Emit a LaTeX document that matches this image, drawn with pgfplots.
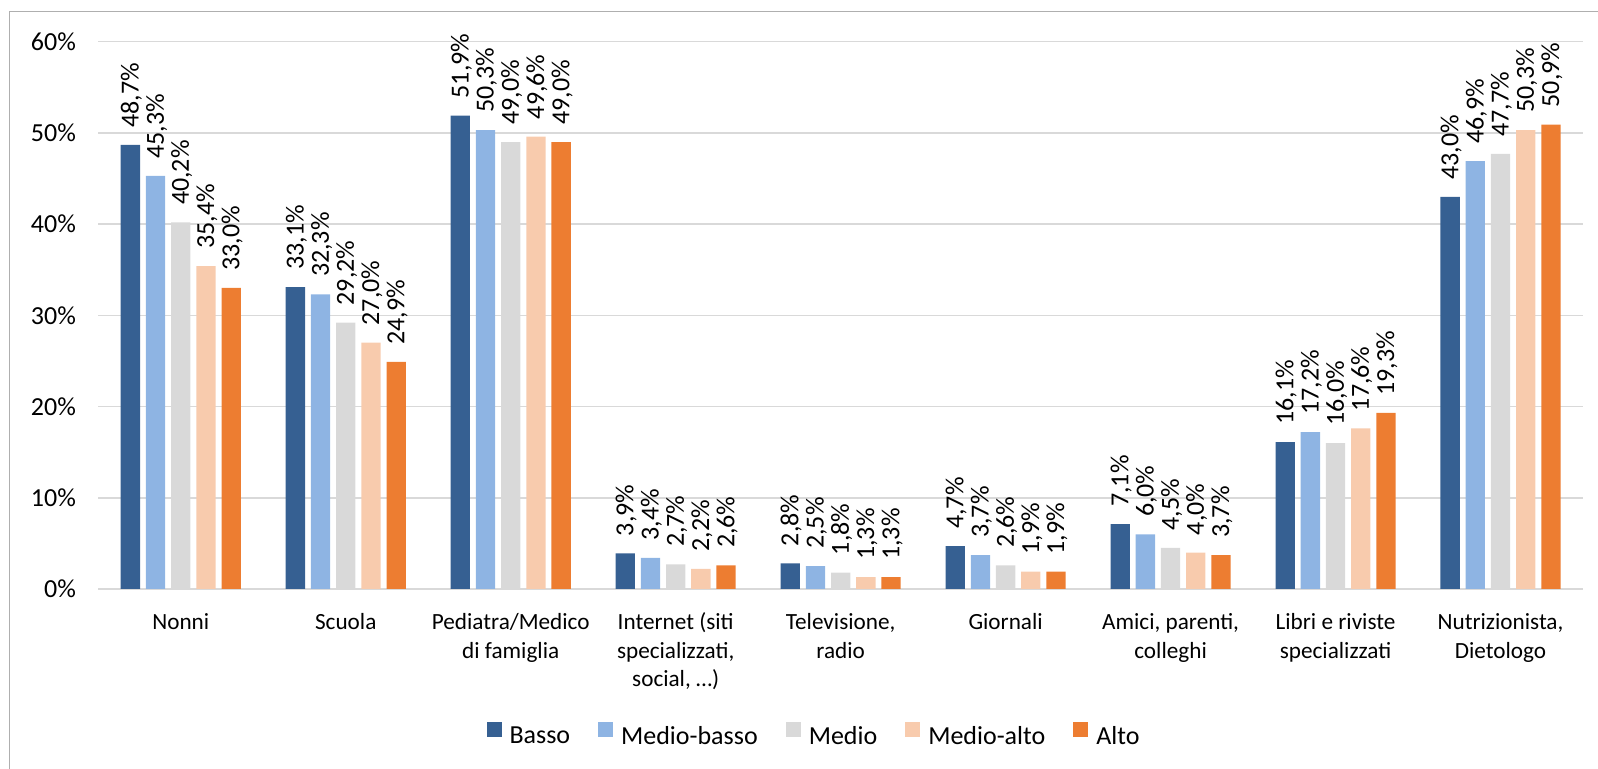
\documentclass[border=0pt]{standalone}
\usepackage{pgfplots}
\pgfplotsset{compat=1.18}
\usepackage{fontspec}
\setmainfont{Carlito}
\definecolor{cBasso}{RGB}{54,96,146}
\definecolor{cMedioBasso}{RGB}{142,180,227}
\definecolor{cMedio}{RGB}{217,217,217}
\definecolor{cMedioAlto}{RGB}{248,203,173}
\definecolor{cAlto}{RGB}{237,125,49}
\definecolor{gridgray}{RGB}{217,217,217}
\definecolor{framegray}{RGB}{175,175,175}
\begin{document}
\begin{tikzpicture}
\useasboundingbox (-49.15pt,-90pt) rectangle (749.85pt,294.5pt);
\draw[framegray, line width=0.7pt] (-44.5pt,-100pt) -- (-44.5pt,288.65pt) -- (760pt,288.65pt);
\begin{axis}[
  at={(0pt,0pt)}, anchor=south west,
  scale only axis,
  width=742.35pt, height=273.65pt,
  xmin=-0.5, xmax=8.5, ymin=0, ymax=60,
  clip=false,
  ybar=2.95pt, bar width=9.65pt,
  axis lines*=left,
  y axis line style={draw=none},
  x axis line style={draw=gridgray, line width=0.9pt},
  major tick length=0pt,
  ymajorgrids, grid style={gridgray, line width=0.75pt},
  ytick={0,10,20,30,40,50,60},
  /pgf/number format/assume math mode=true,
  yticklabel={\pgfmathprintnumber{\tick}\%},
  yticklabel style={font=\fontsize{13}{15}\selectfont, anchor=east, inner sep=0pt, xshift=-11pt},
  xtick={0,1,2,3,4,5,6,7,8},
  xticklabels={\strut Nonni,\strut Scuola,{\strut Pediatra/Medico\\di famiglia},{\strut Internet (siti\\specializzati,\\social, …)},{\strut Televisione,\\radio},\strut Giornali,{\strut Amici, parenti,\\colleghi},{\strut Libri e riviste\\specializzati},{\strut Nutrizionista,\\Dietologo}},
  xticklabel style={font=\fontsize{11.6}{14.15}\selectfont, align=center, anchor=north, inner sep=0pt, yshift=-10.3pt},
  nodes near coords={\pgfmathprintnumber[fixed, fixed zerofill, precision=1, use comma]{\pgfplotspointmeta}\%},
  every node near coord/.append style={font=\fontsize{13}{15}\selectfont, rotate=90, anchor=west, inner xsep=8.5pt, inner ysep=0pt, text height=8.2pt, text depth=0pt, black},
  legend columns=5,
  legend style={draw=none, fill=none, inner sep=0pt, at={(0.2612,-0.2660)}, anchor=west,
    font=\fontsize{13}{15}\selectfont,
    nodes={inner sep=0pt},
    /tikz/every odd column/.append style={column sep=4pt},
    /tikz/every even column/.append style={column sep=14pt}},
  legend image code/.code={\fill[#1] (0pt,0pt) rectangle (7.5pt,7.5pt);},
]
\addplot[fill=cBasso, draw=none] coordinates {(0,48.7) (1,33.1) (2,51.9) (3,3.9) (4,2.8) (5,4.7) (6,7.1) (7,16.1) (8,43.0)};
\addplot[fill=cMedioBasso, draw=none] coordinates {(0,45.3) (1,32.3) (2,50.3) (3,3.4) (4,2.5) (5,3.7) (6,6.0) (7,17.2) (8,46.9)};
\addplot[fill=cMedio, draw=none] coordinates {(0,40.2) (1,29.2) (2,49.0) (3,2.7) (4,1.8) (5,2.6) (6,4.5) (7,16.0) (8,47.7)};
\addplot[fill=cMedioAlto, draw=none] coordinates {(0,35.4) (1,27.0) (2,49.6) (3,2.2) (4,1.3) (5,1.9) (6,4.0) (7,17.6) (8,50.3)};
\addplot[fill=cAlto, draw=none] coordinates {(0,33.0) (1,24.9) (2,49.0) (3,2.6) (4,1.3) (5,1.9) (6,3.7) (7,19.3) (8,50.9)};
\legend{Basso,Medio-basso,Medio,Medio-alto,Alto}
\end{axis}
\end{tikzpicture}
\end{document}
